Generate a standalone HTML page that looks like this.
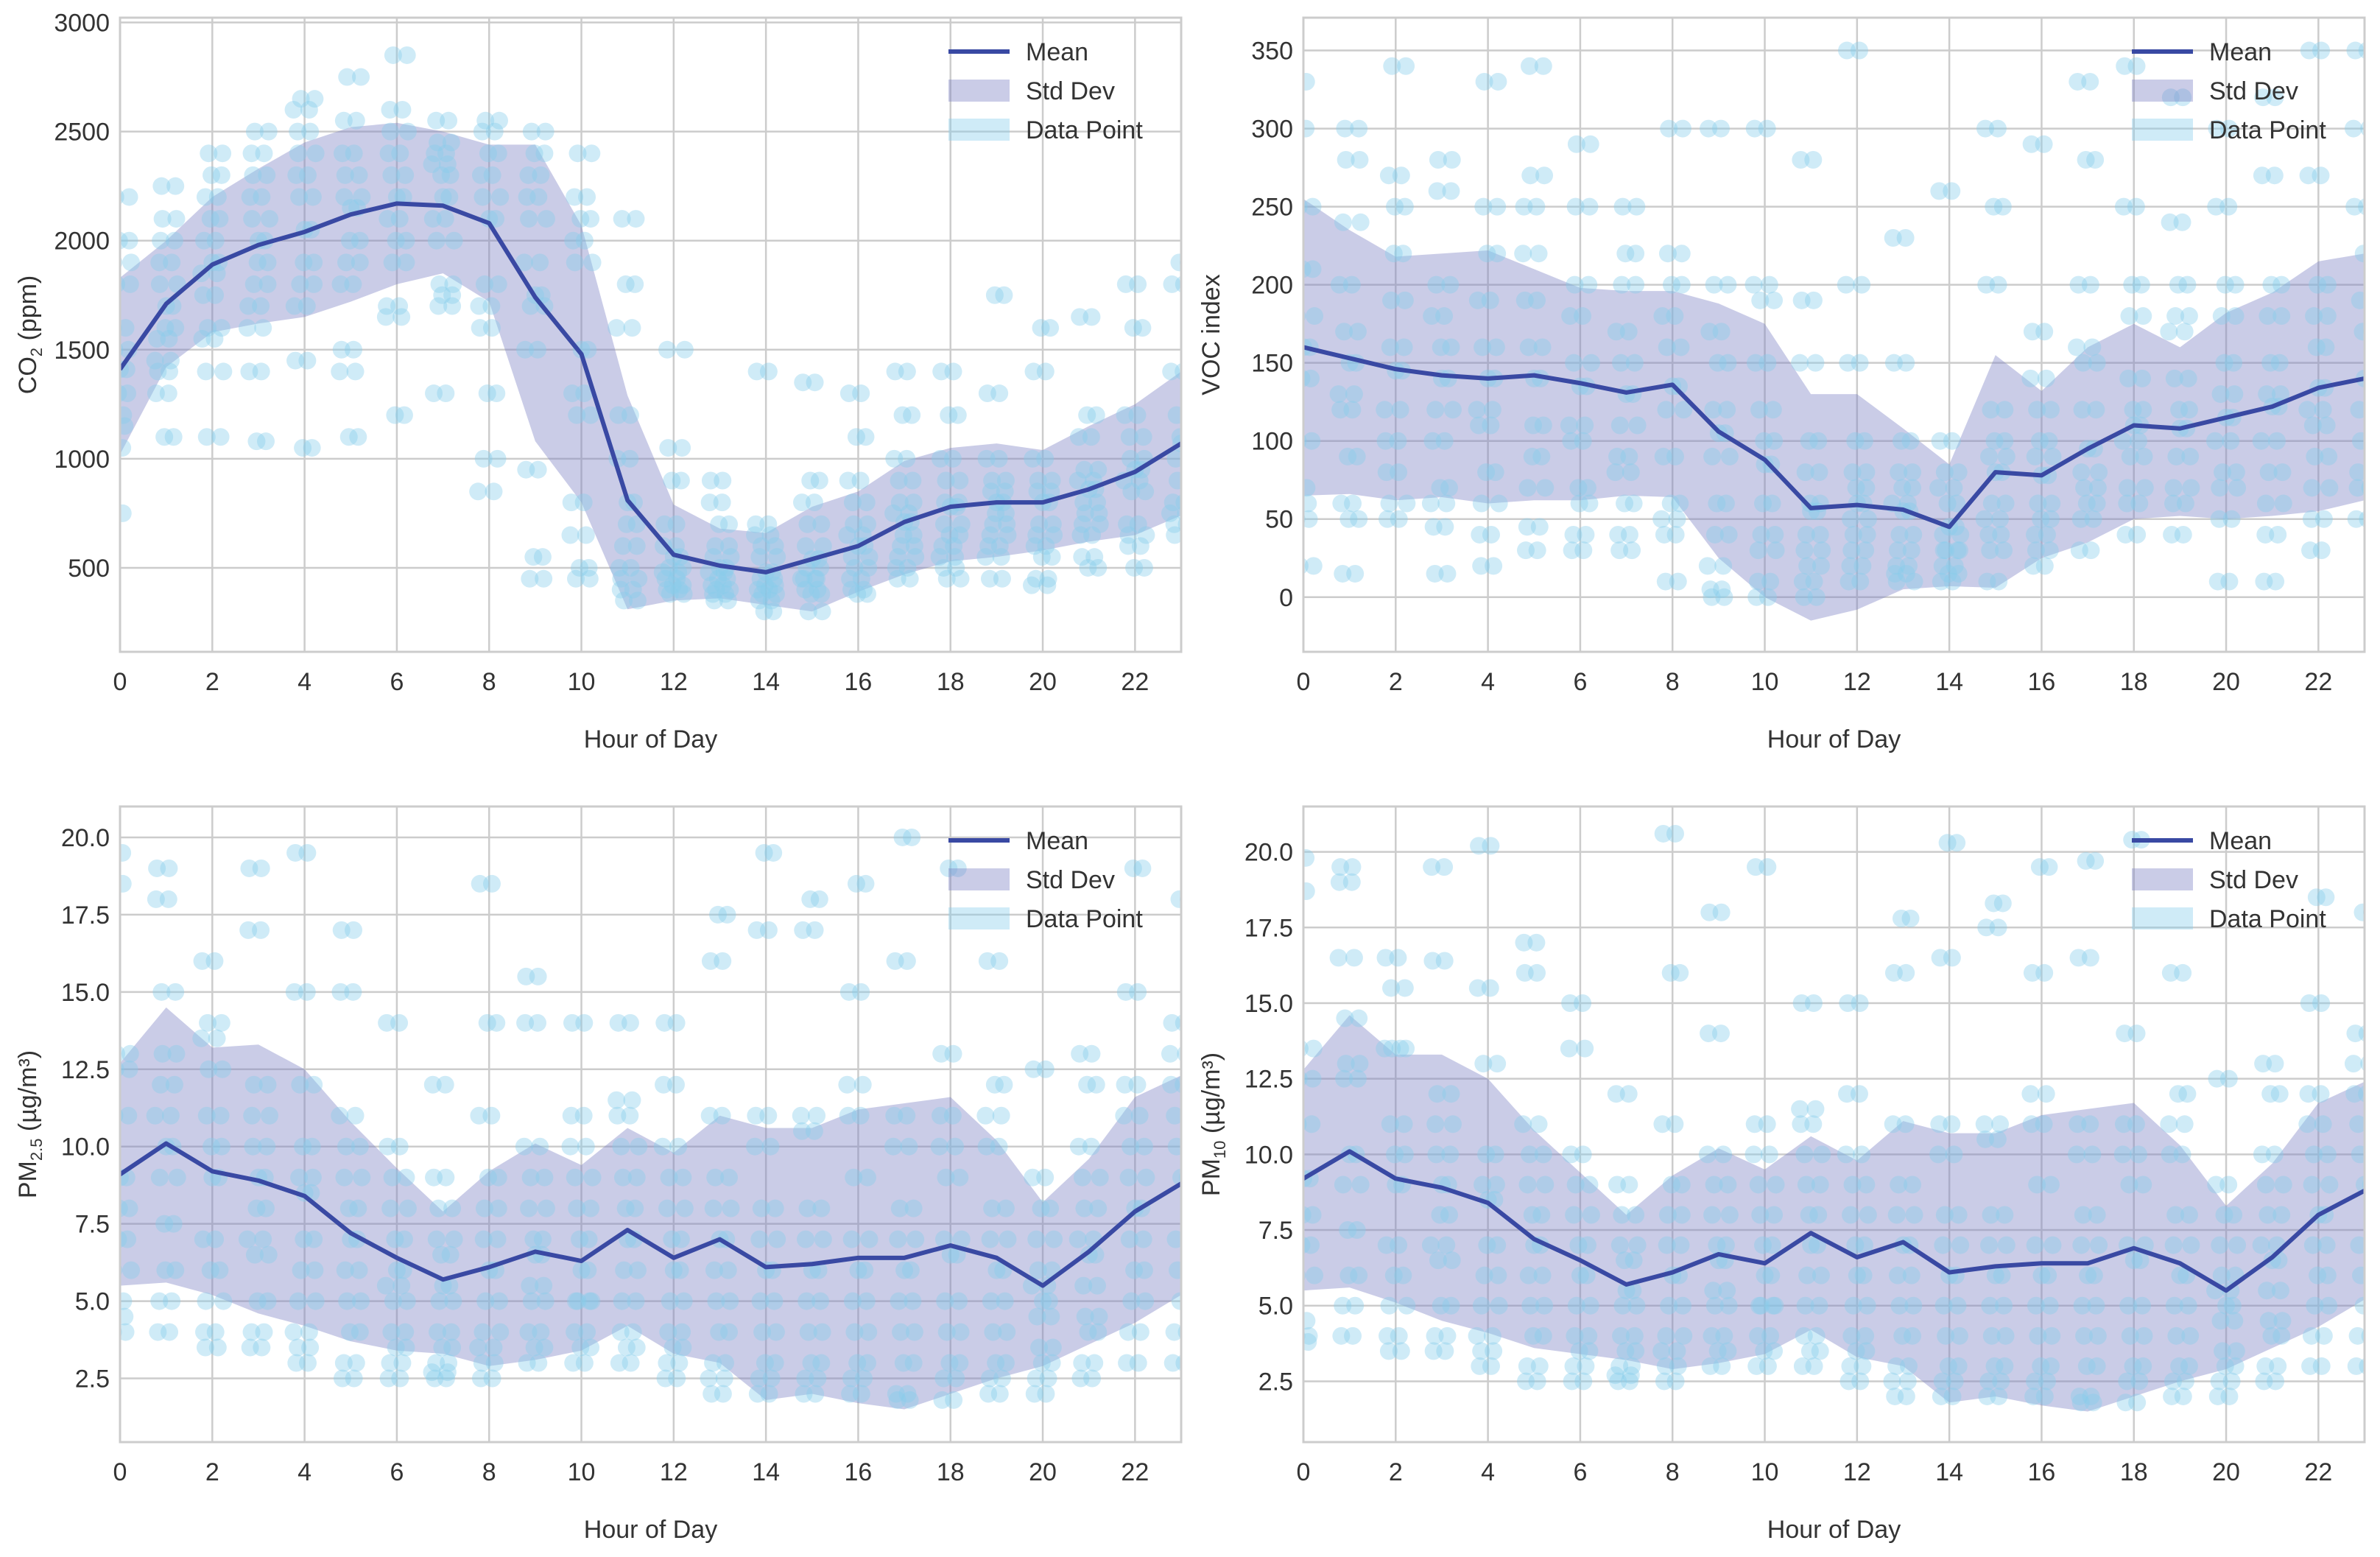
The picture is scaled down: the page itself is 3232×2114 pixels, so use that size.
<!DOCTYPE html>
<html><head><meta charset="utf-8"><style>
html,body{margin:0;padding:0;background:#fff;}
svg{display:block;font-family:"Liberation Sans",Arial,sans-serif;}
</style></head><body>
<svg id="chart" width="3232" height="2114" viewBox="0 0 3232 2114" xmlns="http://www.w3.org/2000/svg"></svg>
<script>
const hours=[0,1,2,3,4,5,6,7,8,9,10,11,12,13,14,15,16,17,18,19,20,21,22,23];
const xTicks=[0,2,4,6,8,10,12,14,16,18,20,22];

const co2Mean=[1410,1710,1890,1980,2040,2120,2170,2160,2080,1740,1480,810,560,510,480,540,600,710,780,800,800,860,940,1070];
const co2Upper=[1830,2000,2200,2330,2450,2520,2540,2500,2440,2440,2070,1290,790,680,660,780,850,990,1050,1070,1040,1150,1250,1400];
const co2Lower=[1020,1420,1580,1620,1650,1720,1800,1850,1720,1080,800,310,350,360,330,300,390,470,530,550,580,620,650,740];
const co2Points=[
[1410,1200,1600,1800,2200,1050,750,1300,1500,1900,2000,1150],
[1700,1400,1900,2100,2250,1300,1550,1100,2000,1800,1600,1450],
[1900,2000,2200,2400,1600,1550,1750,2100,1100,1400,2300,1850],
[2000,2200,2400,2500,1800,1700,1400,1080,2300,2100,1900,1600],
[2050,2300,2500,2650,1800,1700,1450,1050,2200,2400,1900,2600],
[2150,2400,2550,2750,1900,1800,1500,1100,2300,2200,2000,1400],
[2200,2400,2600,2850,1900,1700,2100,1200,2300,2500,2000,1650],
[2200,2400,2550,1800,1700,2100,1300,2300,2450,2000,1750,2350],
[2100,2300,2500,2550,1800,1700,1600,1300,1000,2200,2400,850],
[1750,2200,2300,2500,1700,1500,950,550,450,2100,2400,1900],
[1500,2000,2200,2400,1200,800,1300,500,450,1900,2100,650],
[800,500,400,350,600,1000,1200,1800,2100,450,700,1600],
[550,450,400,380,500,600,700,900,1050,1500,420,480],
[500,420,380,400,600,800,900,450,350,550,700,480],
[480,400,350,380,600,700,1400,300,450,550,420,650],
[540,450,400,300,700,800,1350,900,500,600,380,450],
[600,450,400,500,700,900,1300,1100,800,550,380,650],
[710,500,450,600,800,1000,1400,1200,900,550,650,750],
[780,600,500,450,900,1000,1400,1200,800,700,650,550],
[800,600,450,700,900,1000,1300,1750,850,650,750,550],
[800,600,450,700,900,1000,1400,1600,850,650,550,420],
[860,650,550,750,950,1100,1650,1200,800,700,500,900],
[950,700,600,850,1000,1200,1800,1600,1100,650,500,900],
[1070,800,700,900,1200,1400,1800,1900,1000,650,1100,750]];
const co2Ticks=[500,1000,1500,2000,2500,3000];

const vocMean=[160,153,146,142,140,142,137,131,136,106,88,57,59,56,45,80,78,95,110,108,115,122,134,140];
const vocUpper=[255,235,218,220,222,210,198,196,196,188,175,130,130,108,85,155,132,160,175,160,182,195,215,220];
const vocLower=[65,66,62,64,60,62,62,65,64,25,0,-15,-8,5,7,6,25,35,50,52,50,52,55,62];
const vocPoints=[
[160,70,50,20,250,300,330,140,100,180,210,60],
[150,60,15,280,300,200,120,90,170,240,50,130],
[145,50,270,340,190,100,80,220,160,60,250,120],
[140,45,15,280,260,180,100,70,200,120,160,60],
[140,40,20,330,250,190,110,80,160,60,220,120],
[140,30,45,270,340,250,190,90,160,70,110,220],
[135,30,40,290,250,180,100,70,200,150,60,110],
[130,40,30,250,200,170,90,60,150,110,220,80],
[135,40,10,300,220,180,90,60,160,120,200,50],
[105,5,0,40,200,300,170,60,120,90,150,20],
[85,0,10,40,190,300,150,60,120,30,100,200],
[55,10,0,20,40,280,190,100,80,30,60,150],
[60,10,20,40,80,350,150,100,30,50,70,200],
[55,15,20,40,80,230,150,100,30,10,70,60],
[45,10,20,30,80,260,100,60,30,40,15,70],
[80,10,40,60,120,300,200,250,30,90,100,50],
[78,20,40,60,120,290,170,100,30,90,50,140],
[95,30,50,70,150,330,200,280,120,80,60,160],
[110,40,60,90,180,250,340,200,140,70,120,100],
[108,40,60,90,180,240,320,200,140,70,120,170],
[115,10,50,80,180,250,300,150,130,70,200,100],
[122,10,40,80,180,270,320,150,130,60,200,100],
[134,30,50,90,180,270,350,160,110,70,200,120],
[140,50,70,100,190,250,350,170,120,80,220,300]];
const vocTicks=[0,50,100,150,200,250,300,350];

const pm25Mean=[9.1,10.1,9.2,8.9,8.4,7.2,6.4,5.7,6.1,6.6,6.3,7.3,6.4,7.0,6.1,6.2,6.4,6.4,6.8,6.4,5.5,6.6,7.9,8.8];
const pm25Upper=[12.7,14.5,13.2,13.3,12.5,10.8,9.3,7.9,9.2,10.1,9.4,10.6,9.8,11.0,10.6,10.6,11.2,11.4,11.6,10.2,8.2,9.6,11.6,12.3];
const pm25Lower=[5.5,5.6,5.2,4.6,4.2,3.7,3.4,3.3,2.9,3.1,3.4,4.2,3.3,3.0,1.8,2.0,1.7,1.5,2.0,2.5,2.9,3.6,4.3,5.2];
const pm25Points=[
[9,5,4,13,12.5,19.5,18.5,7,11,6,8,4.5],
[10,4,5,13,15,18,19,7.5,12,9,6,11],
[9,4,3.5,12.5,14,16,7,6,11,5,10,13.5],
[9,3.5,4,6.5,12,17,19,8,10,11,5,7],
[8.5,3,3.5,6,12,15,19.5,10,9,5,7,4],
[7,2.5,3,5,10,15,17,8,6,9,4,11],
[6,2.5,3,5,9,14,10,7,4,8,3.5,5.5],
[5.5,2.5,3,5,8,12,9,6.5,4,7,3.5,2.7],
[6,2.5,3,5,8,11,18.5,14,7,4,9,3.5],
[6.5,3,4,5,9,14,15.5,7,5.5,8,3.5,10],
[6,3,4,5,8,11,14,7,5,9,3.5,10],
[7,3,4,6,9,11,14,8,5,10,3.5,11.5],
[6,2.5,3,5,9,12,14,7,4,8,3.5,10],
[7,2,3,5,9,11,16,17.5,6,8,4,2.5],
[6,2,2.5,4,8,11,17,19.5,5,7,3,10],
[6,2,2.5,4,8,10.5,17,18,5,7,3,11],
[6,2,2.5,4,9,11,15,18.5,5,7,3,12],
[6,2,1.8,4,8,11,16,20,5,7,3,10],
[6.5,1.8,2.5,4,9,11,13,19,5,7,3,10],
[6,2,2.5,4,8,10,16,12,5,7,3,11],
[5,2,2.5,3.5,6,9,12.5,8,4.5,7,3,5.5],
[6.5,2.5,3,4.5,8,10,13,12,5.5,9,4,7],
[8,3,4,5,10,12,15,19,7,9,6,11],
[9,3,4,6,10,12,14,18,7,11,5,13]];
const pm25Ticks=[2.5,5.0,7.5,10.0,12.5,15.0,17.5,20.0];

const pm10Mean=[9.2,10.1,9.2,8.9,8.4,7.2,6.5,5.7,6.1,6.7,6.4,7.4,6.6,7.1,6.1,6.3,6.4,6.4,6.9,6.4,5.5,6.6,8.0,8.8];
const pm10Upper=[12.8,14.6,13.3,13.3,12.5,10.8,9.4,8.0,9.3,10.2,9.5,10.6,9.8,11.1,10.7,10.7,11.3,11.5,11.7,10.3,8.3,9.7,11.7,12.4];
const pm10Lower=[5.5,5.6,5.1,4.5,4.1,3.6,3.4,3.2,2.9,3.1,3.4,4.2,3.3,3.0,1.8,2.0,1.7,1.5,2.0,2.5,2.9,3.6,4.3,5.2];
const pm10Points=[
[9.2,4.5,4,13.5,12.5,19.8,18.7,7,11,6,8,3.8],
[10,4,5,13,14.5,19,19.5,7.5,12.5,9,6,16.5],
[9,4,3.5,13.5,15.5,16.5,7,6,11,5,10,13.5],
[9,3.5,4,6.5,12,19.5,16.4,8,10,11,5,7],
[8.5,3,3.5,6,13,15.5,20.2,10,9,5,7,4],
[7,2.5,3,5,10,17,16,8,6,9,4,11],
[6,2.5,3,5,9,15,10,7,4,8,3.5,13.5],
[5.5,2.5,3,5,8,12,9,6.5,4,7,3.5,2.7],
[6,2.5,3,5,8,11,20.6,16,7,4,9,3.5],
[6.5,3,4,5,9,14,18,7,5.5,8,3.5,10],
[6,3,4,5,8,11,19.5,7,5,9,3.5,10],
[7,3,4,6,9,11,15,8,5,10,3.5,11.5],
[6,2.5,3,5,9,12,15,7,4,8,3.5,10],
[7,2,3,5,9,11,16,17.8,6,8,4,2.5],
[6,2,2.5,4,8,11,16.5,20.3,5,7,3,10],
[6,2,2.5,4,8,10.5,17.5,18.3,5,7,3,11],
[6,2,2.5,4,9,11,16,19.5,5,7,3,12],
[6,2,1.8,4,8,11,16.5,19.7,5,7,3,10],
[6.5,1.8,2.5,4,9,11,14,20.4,5,7,3,10],
[6,2,2.5,4,8,10,16,12,5,7,3,11],
[5,2,2.5,3.5,6,9,12.5,8,4.5,7,3,5.5],
[6.5,2.5,3,4.5,8,10,13,12,5.5,9,4,7],
[8,3,4,5,10,12,15,18.5,7,9,6,11],
[9,3,4,6,10,12,14,18,7,11,5,13]];
const pm10Ticks=[2.5,5.0,7.5,10.0,12.5,15.0,17.5,20.0];

const jit=[0,-0.18,0.12,-0.08,0.2,-0.22,0.06,0.16,-0.12,0.24,-0.02,0.1];
const jit2=[0.14,0.07,-0.15,0.22,-0.1,0.05,-0.2,-0.04,0.18,-0.14,0.2,-0.24];
const NS="http://www.w3.org/2000/svg";
const svg=document.getElementById('chart');
function mk(tag,attrs,parent){const e=document.createElementNS(NS,tag);for(const k in attrs)e.setAttribute(k,attrs[k]);(parent||svg).appendChild(e);return e;}

function panel(cfg){
  const {x0,x1,y0,y1,dmin,dmax,mean,upper,lower,points,ticks,fmt,label,name}=cfg;
  const g=mk('g',{});
  
  
  const sx=h=>x0+(h-0)/(23-0)*(x1-x0);
  const sy=v=>y1-(v-dmin)/(dmax-dmin)*(y1-y0);
  const clipId='clip-'+name;
  const cp=mk('clipPath',{id:clipId},g);mk('rect',{x:x0,y:y0,width:x1-x0,height:y1-y0},cp);
  xTicks.forEach(t=>{const l=mk('line',{x1:sx(t),x2:sx(t),y1:y0,y2:y1,stroke:'#cccccc','stroke-width':2.5},g);
    
    const tx=mk('text',{x:sx(t),y:y1+52,'font-size':34,fill:'#333','text-anchor':'middle'},g);tx.textContent=t;
    });
  ticks.forEach(t=>{const l=mk('line',{x1:x0,x2:x1,y1:sy(t),y2:sy(t),stroke:'#cccccc','stroke-width':2.5},g);
    
    const tx=mk('text',{x:x0-14,y:sy(t)+12,'font-size':34,fill:'#333','text-anchor':'end'},g);tx.textContent=fmt(t);
    });
  const inner=mk('g',{'clip-path':'url(#'+clipId+')'},g);
  let d='';hours.forEach((h,i)=>{d+=(i?'L':'M')+sx(h)+','+sy(upper[i]);});
  for(let i=hours.length-1;i>=0;i--)d+='L'+sx(hours[i])+','+sy(lower[i]);
  const band=mk('path',{d:d+'Z',fill:'#7b7fc4','fill-opacity':0.4},inner);
  
  points.forEach((arr,hi)=>arr.forEach((v,k)=>{
    const c=mk('circle',{cx:sx(hours[hi]+jit[k%jit.length]),cy:sy(v),r:12,fill:'#87ceeb','fill-opacity':0.4},inner);
    
    const c2=mk('circle',{cx:sx(hours[hi]+jit2[k%jit2.length]),cy:sy(v),r:12,fill:'#87ceeb','fill-opacity':0.4},inner);
    }));
  const pd=hours.map((h,i)=>(i?'L':'M')+sx(h)+','+sy(mean[i])).join('');
  const ml=mk('path',{d:pd,fill:'none',stroke:'#3949a3','stroke-width':6,'stroke-linejoin':'round'},inner);
  
  const fr=mk('rect',{x:x0,y:y0,width:x1-x0,height:y1-y0,fill:'none',stroke:'#cccccc','stroke-width':3},g);
  
  const xl=mk('text',{x:(x0+x1)/2,y:y1+130,'font-size':34,fill:'#333','text-anchor':'middle'},g);xl.textContent='Hour of Day';
  
  const yl=mk('text',{x:0,y:0,'font-size':34,fill:'#333','text-anchor':'middle',transform:'translate('+(x0-114)+','+((y0+y1)/2)+') rotate(-90)'},g);
  yl.innerHTML=label;
  
  const lg=mk('g',{},g);
  const lx=x1-316, ly=y0+46;
  const e1=mk('line',{x1:lx,x2:lx+83,y1:ly,y2:ly,stroke:'#3949a3','stroke-width':6},lg);
  
  const e2=mk('rect',{x:lx,y:ly+38,width:83,height:30,fill:'#7b7fc4','fill-opacity':0.4},lg);
  
  const e3=mk('rect',{x:lx,y:ly+91,width:83,height:30,fill:'#87ceeb','fill-opacity':0.4},lg);
  
  [['Mean',0],['Std Dev',53],['Data Point',106]].forEach(([t,o])=>{const tx=mk('text',{x:lx+105,y:ly+o+12,'font-size':34,fill:'#333'},lg);tx.textContent=t;
    });
}
const f0=v=>String(v), f1=v=>v.toFixed(1);
panel({name:'co2',x0:163,x1:1604,y0:24,y1:885,dmin:115,dmax:3022,mean:co2Mean,upper:co2Upper,lower:co2Lower,points:co2Points,ticks:co2Ticks,fmt:f0,
  label:'CO<tspan font-size="22" dy="8">2</tspan><tspan dy="-8"> (ppm)</tspan>'});
panel({name:'voc',x0:1770,x1:3211,y0:24,y1:885,dmin:-35,dmax:371,mean:vocMean,upper:vocUpper,lower:vocLower,points:vocPoints,ticks:vocTicks,fmt:f0,
  label:'VOC index'});
panel({name:'pm25',x0:163,x1:1604,y0:1095,y1:1958,dmin:0.44,dmax:21.0,mean:pm25Mean,upper:pm25Upper,lower:pm25Lower,points:pm25Points,ticks:pm25Ticks,fmt:f1,
  label:'PM<tspan font-size="22" dy="8">2.5</tspan><tspan dy="-8"> (µg/m³)</tspan>'});
panel({name:'pm10',x0:1770,x1:3211,y0:1095,y1:1958,dmin:0.49,dmax:21.5,mean:pm10Mean,upper:pm10Upper,lower:pm10Lower,points:pm10Points,ticks:pm10Ticks,fmt:f1,
  label:'PM<tspan font-size="22" dy="8">10</tspan><tspan dy="-8"> (µg/m³)</tspan>'});
</script>
</body></html>
